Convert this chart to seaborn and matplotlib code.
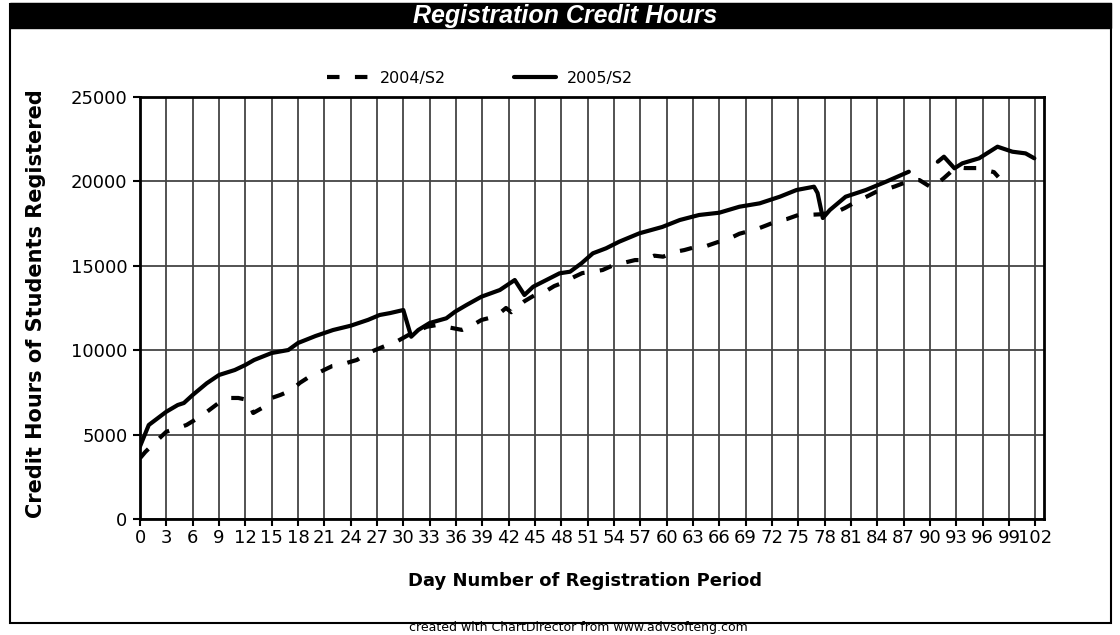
import pandas as pd
import numpy as np
import matplotlib
matplotlib.use("Agg")
import matplotlib.pyplot as plt
from matplotlib.patches import Rectangle
from matplotlib.lines import Line2D
import seaborn as sns

# values
days_2004 = [0, 0.6, 2, 3, 4.3, 5.3, 6.6, 7.6, 9.1, 9.9, 11.2, 12.3, 12.9, 13.9, 15, 16, 17.3,
             18.2, 19.6, 20.5, 21.9, 22.8, 23.9, 24.7, 26, 26.8, 28.2, 29.2, 31, 32.7, 33.8,
             36.7, 37.6, 38.9, 39.8, 41, 41.7, 42.3, 43.8, 45, 45.9, 47.2, 48.2, 49.5, 50.4,
             51.6, 52.7, 54, 55, 56.4, 57.3, 58.6, 59.6, 61, 62, 63.4, 64.3, 65.8, 66.8, 68.3,
             69, 70.6, 71.4, 72.6, 73.7, 75, 75.9, 77.5, 79.4, 80.3, 81.6, 82.5, 83.9, 84.8,
             86, 87, 88, 88.8, 89.7, 90.3, 90.9, 91.6, 93, 94, 95.4, 96.3, 97.3, 97.8]
hours_2004 = [3600, 3970, 4680, 5170, 5390, 5570, 5980, 6340, 6930, 7170, 7170, 7050, 6280,
              6575, 7170, 7350, 7640, 8060, 8530, 8710, 9060, 9120, 9300, 9420, 9830, 10010,
              10310, 10500, 11020, 11390, 11490, 11200, 11390, 11790, 11910, 12200, 12500,
              12250, 12900, 13270, 13390, 13800, 14000, 14350, 14570, 14650, 14750, 15050,
              15160, 15340, 15340, 15600, 15540, 15830, 15930, 16130, 16130, 16400, 16530,
              16900, 17000, 17240, 17400, 17650, 17770, 18010, 18010, 18050, 18200, 18420,
              18800, 19020, 19390, 19490, 19700, 19900, 20080, 20080, 19790, 19600, 19900,
              20200, 20850, 20790, 20790, 20670, 20550, 20260]

# 2005/S2 has a gap between day 88 and day 91
days_2005_a = [0, 1, 3, 4.3, 5, 6, 7.6, 9, 10.8, 12, 13, 15, 16.9, 18, 20, 22, 24, 26, 27.3,
               28.5, 30, 30.9, 31.7, 33, 34.9, 35.9, 37.2, 38.9, 41, 42.7, 43.8, 44.8, 46.3,
               47.8, 49, 50.3, 51.6, 53.1, 54.6, 56.9, 59.5, 61.5, 63.7, 66, 68.3, 70.6, 72.9,
               74.8, 76.8, 77.2, 77.8, 78.6, 80.4, 82.7, 85, 87.6]
hours_2005_a = [4300, 5570, 6356, 6753, 6872, 7346, 8039, 8530, 8827, 9123, 9420, 9834, 10011,
                10426, 10841, 11196, 11450, 11800, 12085, 12200, 12380, 10800, 11196, 11611,
                11890, 12281, 12677, 13169, 13566, 14158, 13270, 13762, 14158, 14555, 14650,
                15148, 15740, 16036, 16428, 16925, 17300, 17712, 18010, 18145, 18500, 18700,
                19093, 19490, 19686, 19312, 17831, 18305, 19093, 19490, 19982, 20575]
days_2005_b = [90.9, 91.6, 92.8, 93.7, 95.6, 97.7, 99.4, 100.9, 101.9]
hours_2005_b = [21167, 21463, 20776, 21072, 21368, 22056, 21759, 21660, 21368]

x_ticks = list(range(0, 103, 3))
y_ticks = [0, 5000, 10000, 15000, 20000, 25000]

df = pd.concat([
    pd.DataFrame({"day": days_2004, "hours": hours_2004, "series": "2004/S2", "seg": 0}),
    pd.DataFrame({"day": days_2005_a, "hours": hours_2005_a, "series": "2005/S2", "seg": 1}),
    pd.DataFrame({"day": days_2005_b, "hours": hours_2005_b, "series": "2005/S2", "seg": 2}),
], ignore_index=True)

sns.set_style("white")
plt.rcParams["font.family"] = ["DejaVu Sans"]
plt.rcParams["text.color"] = "black"
plt.rcParams["axes.labelcolor"] = "black"
plt.rcParams["xtick.color"] = "black"
plt.rcParams["ytick.color"] = "black"

W, H = 1120, 635
fig = plt.figure(figsize=(W / 100, H / 100), dpi=100, facecolor="white")
ax = fig.add_axes([140 / W, 1 - 519 / H, 904 / W, 422 / H])

dash_pat = (3, 3.7)
sns.lineplot(data=df, x="day", y="hours", style="series", units="seg", estimator=None,
             sort=False, color="black", linewidth=3,
             dashes={"2004/S2": dash_pat, "2005/S2": ""}, legend=False, ax=ax, zorder=3)

ax.set_xlim(0, 103)
ax.set_ylim(0, 25000)
ax.set_xticks(x_ticks)
ax.set_xticklabels([str(t) for t in x_ticks])
ax.set_yticks(y_ticks)
ax.grid(True, color="#444444", linewidth=1.3)
ax.set_axisbelow(True)
for s in ax.spines.values():
    s.set_color("black")
    s.set_linewidth(2)
ax.tick_params(axis="both", direction="out", length=5, width=1.5, color="black",
               labelsize=13, labelcolor="black", pad=2, left=True, bottom=True)
ax.tick_params(axis="y", pad=4)

ax.set_xlabel("Day Number of Registration Period", fontsize=13, fontweight="bold")
ax.set_ylabel("Credit Hours of Students Registered", fontsize=15, fontweight="bold")
ax.xaxis.set_label_coords(0.492, -0.125)
ax.yaxis.set_label_coords(-0.104, 0.51)

# legend
handles = [Line2D([], [], color="black", lw=3, dashes=dash_pat),
           Line2D([], [], color="black", lw=3)]
fig.legend(handles, ["2004/S2", "2005/S2"], loc="center", ncol=2, frameon=False,
           bbox_to_anchor=(480 / W, 1 - 78 / H), fontsize=11.5, handlelength=2.6,
           columnspacing=4.3, handletextpad=0.7)

# title bar and outer frame
fig.patches.append(Rectangle((10 / W, 1 - 28 / H), 1101 / W, 25 / H, transform=fig.transFigure,
                             facecolor="black", edgecolor="black", zorder=0))
fig.text(565 / W, 1 - 15.5 / H, "Registration Credit Hours", color="white", fontsize=18,
         fontstyle="italic", fontweight="bold", family="Liberation Sans",
         ha="center", va="center")
fig.patches.append(Rectangle((10 / W, 1 - 623 / H), 1101 / W, 619 / H, transform=fig.transFigure,
                             facecolor="none", edgecolor="black", lw=1.5, zorder=0))
fig.text(578 / W, 1 - 628 / H, "created with ChartDirector from www.advsofteng.com",
         fontsize=9, ha="center", va="center")

fig.savefig("out.png", dpi=100, facecolor=fig.get_facecolor())
